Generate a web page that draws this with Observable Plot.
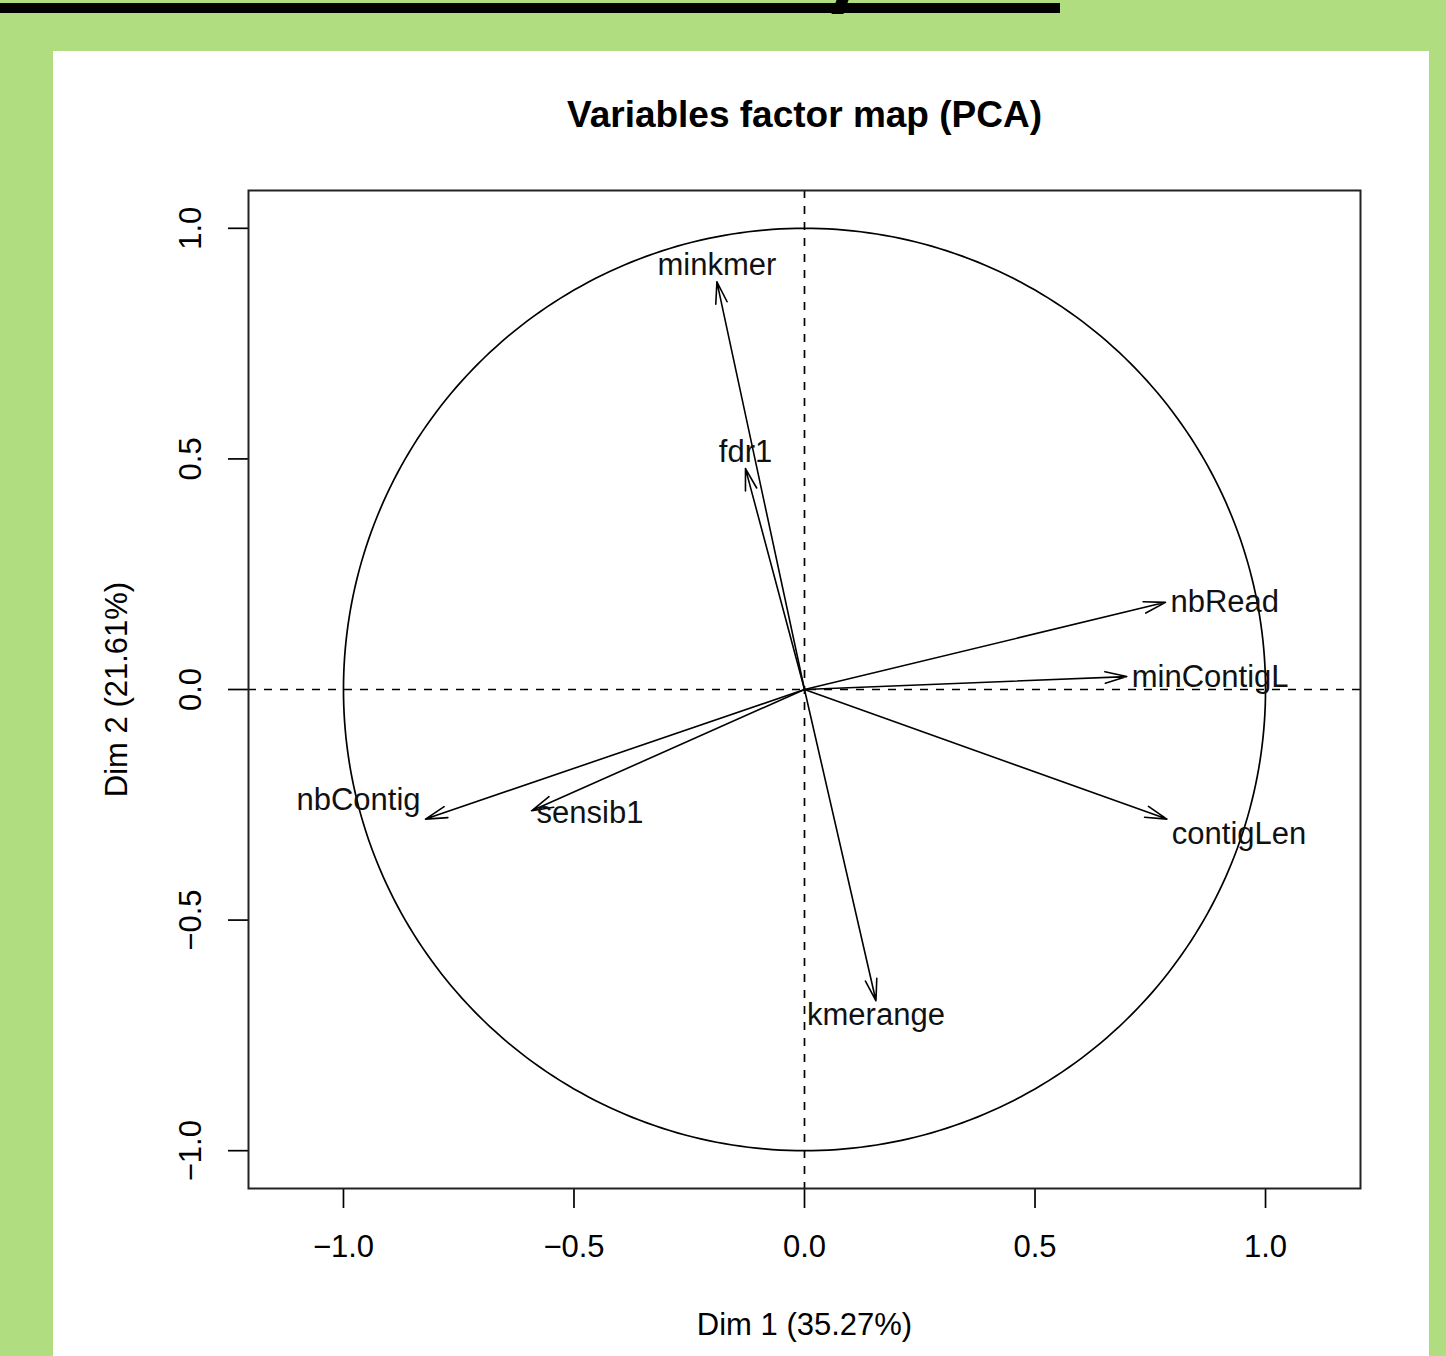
<!DOCTYPE html>
<html><head><meta charset="utf-8">
<script src="https://cdn.jsdelivr.net/npm/d3@7"></script>
<script src="https://cdn.jsdelivr.net/npm/@observablehq/plot@0.6"></script>
<style>
html,body{margin:0;padding:0;background:#b0dd80;width:1446px;height:1356px;overflow:hidden;}
#bar{position:absolute;left:0;top:3px;width:1060px;height:10px;background:#000;}
#bump{position:absolute;left:834px;top:0;width:12px;height:14px;background:#000;transform:skewX(-20deg);}
#panel{position:absolute;left:53px;top:51px;width:1376px;height:1305px;background:#fff;}
#panel svg{display:block;}
</style></head><body>
<div id="bar"></div><div id="bump"></div>
<div id="panel"></div>
<script>
// ---- data ----
const variables = ["minkmer", "fdr1", "nbRead", "minContigL", "contigLen", "kmerange", "sensib1", "nbContig"];
const dim1 = [-0.190, -0.128, 0.783, 0.699, 0.786, 0.155, -0.592, -0.822];
const dim2 = [0.884, 0.479, 0.189, 0.028, -0.281, -0.675, -0.263, -0.281];
const xTicks = [-1, -0.5, 0, 0.5, 1];
const yTicks = [-1, -0.5, 0, 0.5, 1];
const titleText = "Variables factor map (PCA)";
const xLabel = "Dim 1 (35.27%)";
const yLabel = "Dim 2 (21.61%)";

// ---- label placement (style) ----
const placements = {
  above:      {textAnchor: "middle", lineAnchor: "bottom", dx: 0,  dy: -7},
  right:      {textAnchor: "start",  lineAnchor: "middle", dx: 5,  dy: 0},
  rightLow:   {textAnchor: "start",  lineAnchor: "middle", dx: 5,  dy: 15},
  rightSlight:{textAnchor: "start",  lineAnchor: "middle", dx: 5,  dy: 2},
  leftHigh:   {textAnchor: "end",    lineAnchor: "middle", dx: -5, dy: -19},
  below:      {textAnchor: "middle", lineAnchor: "top",    dx: 0,  dy: 2}
};
const labelPlace = {minkmer: "above", fdr1: "above", nbRead: "right", minContigL: "right",
  contigLen: "rightLow", kmerange: "below", sensib1: "rightSlight", nbContig: "leftHigh"};

const table = variables.map((name, i) => ({name, x: dim1[i], y: dim2[i]}));

// unit correlation circle (geometry)
const circle = d3.range(0, 361).map(a => ({cx: Math.cos(a * Math.PI / 180), cy: Math.sin(a * Math.PI / 180)}));

const fmt = d3.format(".1f");
const font = "Liberation Sans, Arial, Helvetica, sans-serif";

const labelMarks = Object.entries(placements).map(([key, p]) =>
  Plot.text(table.filter(d => labelPlace[d.name] === key), {
    x: "x", y: "y", text: "name", fontSize: 31, fill: "#111", ...p
  })
);

const chart = Plot.plot({
  width: 1376, height: 1305,
  marginLeft: 195, marginRight: 69, marginTop: 139, marginBottom: 168,
  x: {domain: [-1.206, 1.206]},
  y: {domain: [-1.082, 1.082]},
  style: {fontFamily: font, fontSize: "31px", background: "white", color: "black"},
  marks: [
    Plot.ruleX([0], {stroke: "black", strokeWidth: 1.7, strokeDasharray: "8,8"}),
    Plot.ruleY([0], {stroke: "black", strokeWidth: 1.7, strokeDasharray: "8,8"}),
    Plot.line(circle, {x: "cx", y: "cy", stroke: "black", strokeWidth: 1.7}),
    Plot.arrow(table, {x1: () => 0, y1: () => 0, x2: "x", y2: "y", stroke: "black",
      strokeWidth: 1.6, headAngle: 30, headLength: 21}),
    ...labelMarks,
    Plot.axisX(xTicks, {tickSize: 20, tickPadding: 26, tickFormat: fmt, fontSize: 31,
      strokeWidth: 1.7, label: null}),
    Plot.axisY(yTicks, {tickSize: 20, tickPadding: 28, tickRotate: -90, tickFormat: fmt,
      fontSize: 31, strokeWidth: 1.7, label: null}),
    Plot.frame({stroke: "#222", strokeWidth: 2}),
    Plot.text([titleText], {text: d => d, frameAnchor: "top", textAnchor: "middle", lineAnchor: "bottom",
      dy: -64, fontSize: 37, fontWeight: "bold"}),
    Plot.text([xLabel], {text: d => d, frameAnchor: "bottom", textAnchor: "middle", lineAnchor: "top",
      dy: 124, fontSize: 31}),
    Plot.text([yLabel], {text: d => d, frameAnchor: "left", textAnchor: "middle", rotate: -90,
      lineAnchor: "bottom", dx: -122, fontSize: 31})
  ]
});
document.getElementById("panel").appendChild(chart);
</script>
</body></html>
